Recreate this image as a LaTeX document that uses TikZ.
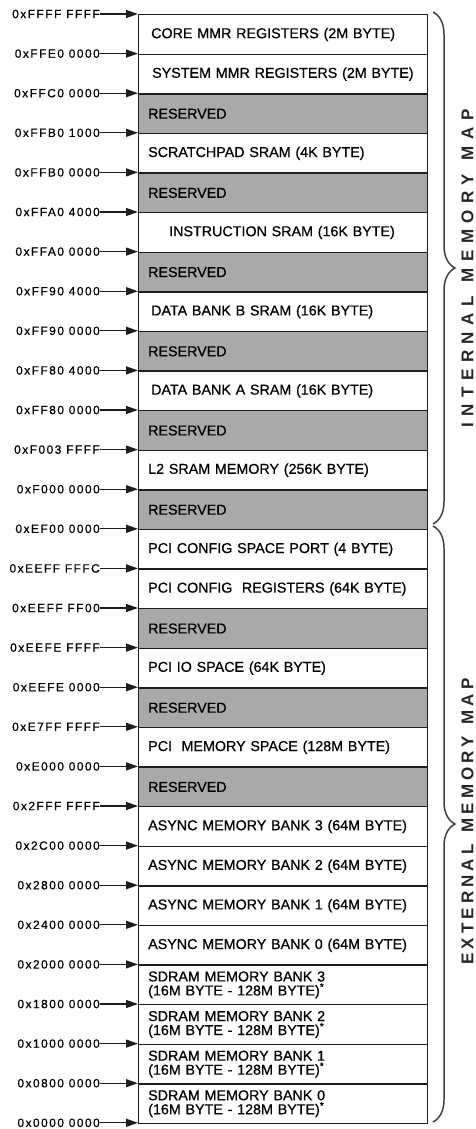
\documentclass[tikz,border=0pt]{standalone}
\usepackage{fontspec}
\setmainfont{Liberation Sans}
\newfontfamily\cellfont{Liberation Sans}[FakeBold=0.6]
\newfontfamily\addrfont{Liberation Sans}[LetterSpace=12,FakeBold=0.5]
\newfontfamily\intfont{Liberation Sans Bold}[LetterSpace=38]
\newfontfamily\extfont{Liberation Sans Bold}[LetterSpace=24]
\usetikzlibrary{arrows.meta,decorations.pathreplacing}

\definecolor{resgray}{RGB}{169,168,171}
\definecolor{linegray}{RGB}{30,30,30}

\tikzset{
  cell/.style={draw=linegray, line width=1.4pt, anchor=north west,
    minimum width=289pt, minimum height=39.6pt, text width=270pt,
    inner xsep=9.5pt, inner ysep=0pt, align=left,
    font=\cellfont\fontsize{14.3}{14}\selectfont},
  freecell/.style={cell, fill=white},
  rescell/.style={cell, fill=resgray},
  addr/.style={anchor=east, inner sep=0pt,
    font=\addrfont\fontsize{12}{12}\selectfont},
  addrarrow/.style={draw=linegray, line width=1.3pt,
    -{Triangle[length=12pt,width=8pt]}},
  mapbrace/.style={draw=black!75, line width=1.5pt, decorate,
    decoration={brace, amplitude=22pt}},
  maptext/.style={rotate=90, inner sep=0pt, text=black!85}
}

\begin{document}
\begin{tikzpicture}[x=1pt,y=1pt]
  \useasboundingbox (0,0) rectangle (476,-1129);

  \def\boxleft{138}
  \def\boxtop{14}
  \def\rowh{39.6}

  % memory regions, top (0xFFFF FFFF) to bottom (0x0000 0000)
  \foreach \kind/\txt [count=\i from 0] in {
    freecell/{\hspace*{3pt}CORE MMR REGISTERS (2M BYTE)},
    freecell/{\hspace*{4pt}SYSTEM MMR REGISTERS (2M BYTE)},
    rescell/{RESERVED},
    freecell/{SCRATCHPAD SRAM (4K BYTE)},
    rescell/{RESERVED},
    freecell/{\hspace*{21pt}INSTRUCTION SRAM (16K BYTE)},
    rescell/{RESERVED},
    freecell/{\hspace*{3pt}DATA BANK B SRAM (16K BYTE)},
    rescell/{RESERVED},
    freecell/{\hspace*{3pt}DATA BANK A SRAM (16K BYTE)},
    rescell/{RESERVED},
    freecell/{L2 SRAM MEMORY (256K BYTE)},
    rescell/{RESERVED},
    freecell/{PCI CONFIG SPACE PORT (4 BYTE)},
    freecell/{PCI CONFIG~ REGISTERS (64K BYTE)},
    rescell/{RESERVED},
    freecell/{PCI IO SPACE (64K BYTE)},
    rescell/{RESERVED},
    freecell/{PCI~ MEMORY SPACE (128M BYTE)},
    rescell/{RESERVED},
    freecell/{ASYNC MEMORY BANK 3 (64M BYTE)},
    freecell/{ASYNC MEMORY BANK 2 (64M BYTE)},
    freecell/{ASYNC MEMORY BANK 1 (64M BYTE)},
    freecell/{ASYNC MEMORY BANK 0 (64M BYTE)},
    freecell/{SDRAM MEMORY BANK 3\\(16M BYTE - 128M BYTE)\textsuperscript{*}},
    freecell/{SDRAM MEMORY BANK 2\\(16M BYTE - 128M BYTE)\textsuperscript{*}},
    freecell/{SDRAM MEMORY BANK 1\\(16M BYTE - 128M BYTE)\textsuperscript{*}},
    freecell/{SDRAM MEMORY BANK 0\\(16M BYTE - 128M BYTE)\textsuperscript{*}}
  } {
    \node[\kind] (r\i) at (\boxleft, -\boxtop-\i*\rowh) {\txt};
  }

  % boundary addresses with arrows
  \foreach \adr [count=\k from 0] in {
    0xFFFF FFFF, 0xFFE0 0000, 0xFFC0 0000, 0xFFB0 1000, 0xFFB0 0000,
    0xFFA0 4000, 0xFFA0 0000, 0xFF90 4000, 0xFF90 0000, 0xFF80 4000,
    0xFF80 0000, 0xF003 FFFF, 0xF000 0000, 0xEF00 0000, 0xEEFF FFFC,
    0xEEFF FF00, 0xEEFE FFFF, 0xEEFE 0000, 0xE7FF FFFF, 0xE000 0000,
    0x2FFF FFFF, 0x2C00 0000, 0x2800 0000, 0x2400 0000, 0x2000 0000,
    0x1800 0000, 0x1000 0000, 0x0800 0000, 0x0000 0000
  } {
    \coordinate (b\k) at (\boxleft, -\boxtop-\k*\rowh);
    \node[addr] (a\k) at (100, -\boxtop-\k*\rowh) {\adr};
    \draw[addrarrow] (a\k.east) -- (b\k);
  }

  % braces on the right
  \coordinate (intop) at (433, -12);
  \coordinate (intbot) at (433, -524);
  \coordinate (exttop) at (433, -526);
  \coordinate (extbot) at (433, -1122);
  \draw[mapbrace] (intop) -- (intbot);
  \draw[mapbrace] (exttop) -- (extbot);

  \node[maptext, font=\intfont\fontsize{17}{18}\selectfont] (intlabel)
    at (467.5, -268.5) {INTERNAL\hspace{14pt}MEMORY\hspace{14pt}MAP};
  \node[maptext, font=\extfont\fontsize{17}{18}\selectfont] (extlabel)
    at (467.5, -821.5) {EXTERNAL\hspace{12pt}MEMORY\hspace{12pt}MAP};

\end{tikzpicture}
\end{document}
